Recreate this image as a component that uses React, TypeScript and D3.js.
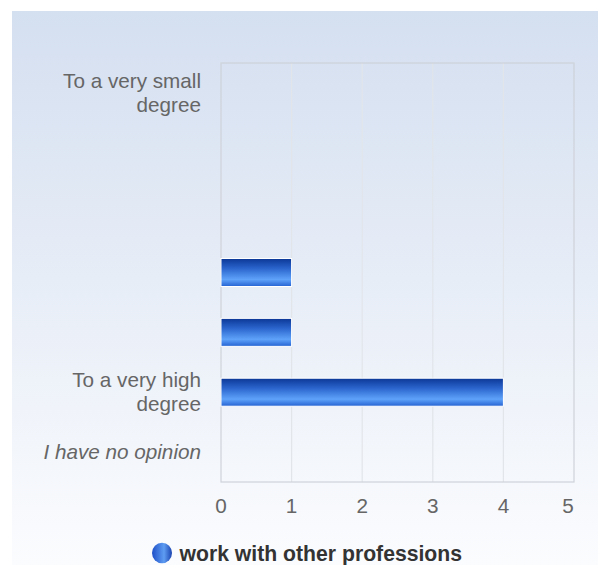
import React from "react";
import * as d3 from "d3";

const categories: string[][] = [
  ["To a very small", "degree"],
  [""],
  [""],
  [""],
  [""],
  ["To a very high", "degree"],
  ["I have no opinion"],
];
const italicCategory = [false, false, false, false, false, false, true];
const values: number[] = [0, 0, 0, 1, 1, 4, 0];
const xTicks: number[] = [0, 1, 2, 3, 4, 5];
const seriesName = "work with other professions";

const W = 598;
const H = 565;
const left = 221;
const right = 574;
const top = 63;
const bottom = 482;

export default function App() {
  const x = d3.scaleLinear().domain([0, 5]).range([left, right]);
  const y = d3
    .scaleBand<number>()
    .domain(d3.range(categories.length))
    .range([top, bottom])
    .paddingInner(0)
    .paddingOuter(0);
  const barH = 28;
  const font = "Arial, 'Liberation Sans', sans-serif";

  return (
    <svg
      width={W}
      height={H}
      style={{ position: "absolute", left: 0, top: 0, fontFamily: font }}
    >
      <defs>
        <linearGradient id="bg" x1="0" y1="0" x2="0" y2="1">
          <stop offset="0" stopColor="#d4dff0" />
          <stop offset="1" stopColor="#fbfcfe" />
        </linearGradient>
        <linearGradient id="bar" x1="0" y1="0" x2="0" y2="1">
          <stop offset="0" stopColor="#0b3796" />
          <stop offset="0.35" stopColor="#2a64cc" />
          <stop offset="0.75" stopColor="#5ea2fa" />
          <stop offset="1" stopColor="#2462d2" />
        </linearGradient>
        <linearGradient id="leg" x1="0" y1="0" x2="1" y2="0">
          <stop offset="0" stopColor="#1e50c8" />
          <stop offset="0.6" stopColor="#5e9cf2" />
          <stop offset="1" stopColor="#1a44b0" />
        </linearGradient>
      </defs>
      <rect x={12} y={11} width={W - 12} height={H - 11} fill="url(#bg)" />
      {xTicks.slice(1, -1).map((t) => (
        <line
          key={t}
          x1={x(t)}
          x2={x(t)}
          y1={top}
          y2={bottom}
          stroke="#e2e5ea"
          strokeWidth={1.2}
        />
      ))}
      <rect
        x={left}
        y={top}
        width={right - left}
        height={bottom - top}
        fill="none"
        stroke="#cfd3d9"
        strokeWidth={1.2}
      />
      {values.map((v, i) =>
        v > 0 ? (
          <rect
            key={i}
            x={x(0)}
            y={(y(i) as number) + y.bandwidth() / 2 - barH / 2}
            width={x(v) - x(0)}
            height={barH}
            fill="url(#bar)"
            stroke="#ffffff"
            strokeWidth={1}
          />
        ) : null
      )}
      {categories.map((lines, i) => {
        const cy = (y(i) as number) + y.bandwidth() / 2;
        const lh = 24;
        const start = cy - ((lines.length - 1) * lh) / 2;
        return (
          <text
            key={i}
            textAnchor="end"
            fontSize={20.7}
            fill="#666"
            fontStyle={italicCategory[i] ? "italic" : "normal"}
          >
            {lines.map((l, j) => (
              <tspan key={j} x={201} y={start + j * lh + 7}>
                {l}
              </tspan>
            ))}
          </text>
        );
      })}
      {xTicks.map((t, i) => (
        <text
          key={t}
          x={i === xTicks.length - 1 ? x(t) - 6 : x(t)}
          y={513}
          textAnchor="middle"
          fontSize={20.7}
          fill="#666"
        >
          {t}
        </text>
      ))}
      <ellipse cx={162} cy={553} rx={10} ry={10.3} fill="url(#leg)" />
      <text x={179.5} y={560.5} fontSize={21.2} fontWeight="bold" fill="#333">
        {seriesName}
      </text>
    </svg>
  );
}
